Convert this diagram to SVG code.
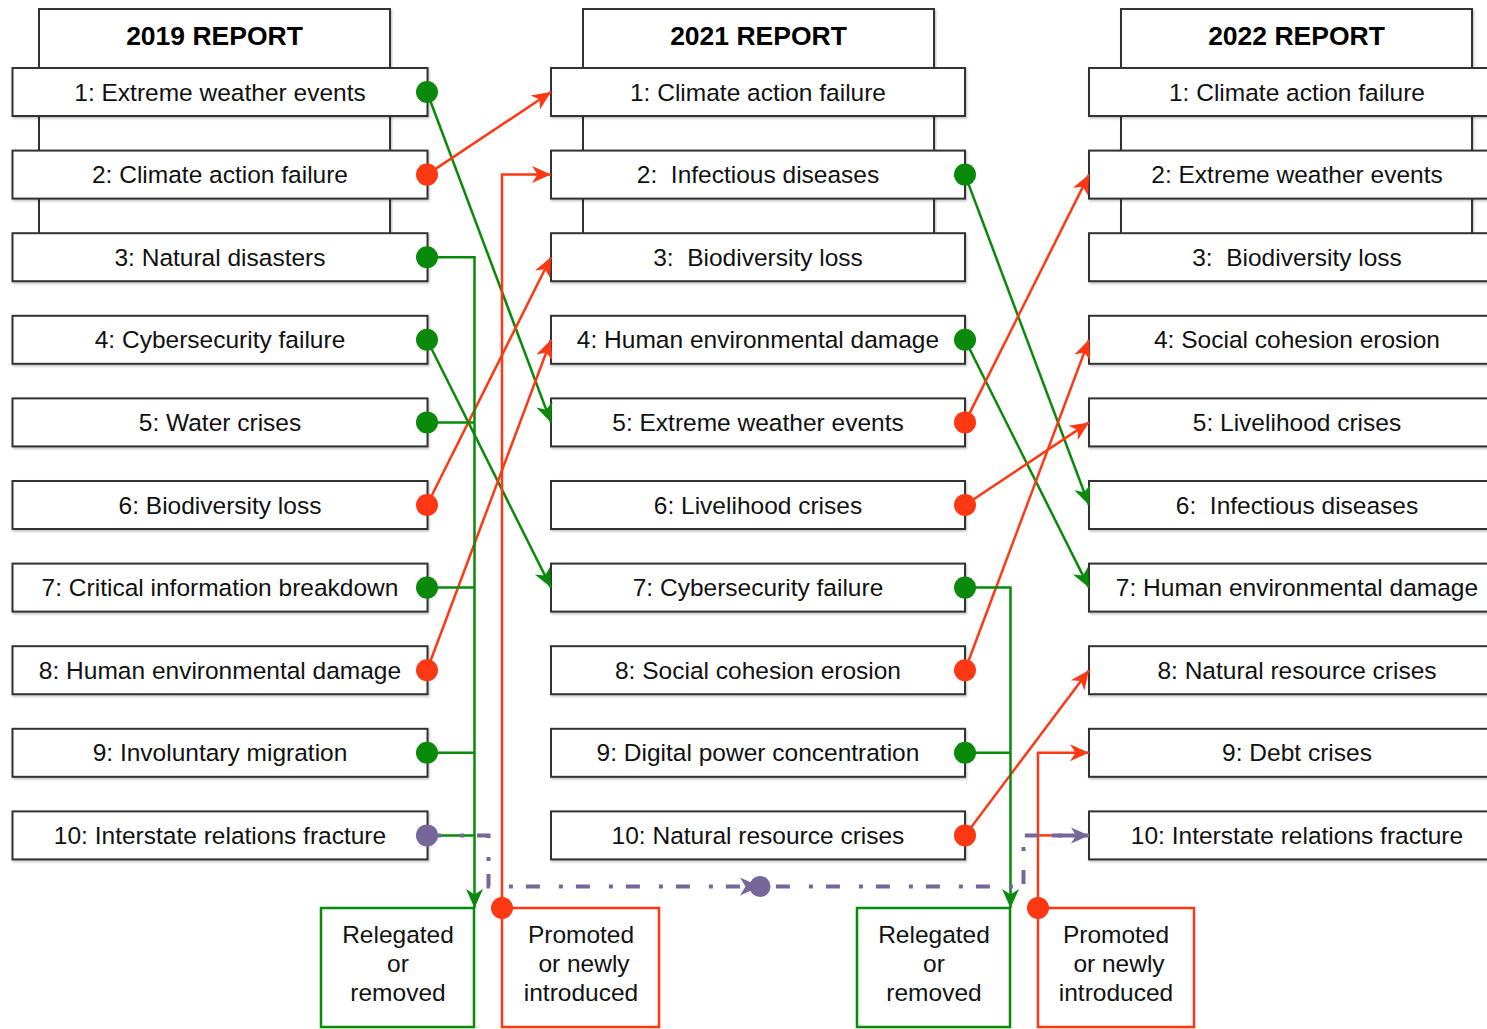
<svg xmlns="http://www.w3.org/2000/svg" width="1487" height="1029" viewBox="0 0 1487 1029">
<style>
.hdr{fill:#fff;stroke:#333;stroke-width:2}
.box{fill:#fff;stroke:#333;stroke-width:2}
.ht{font-family:"Liberation Sans",Arial,sans-serif;font-weight:bold;font-size:26.5px;fill:#000;text-anchor:middle}
.t{font-family:"Liberation Sans",Arial,sans-serif;font-size:24.5px;fill:#111;text-anchor:middle;white-space:pre}
.g{fill:none;stroke:#0a8a0a;stroke-width:2.5}
.r{fill:none;stroke:#ff3814;stroke-width:2.5}
.p{fill:none;stroke:#766699;stroke-width:4;stroke-dasharray:14 19 4 13}
.gd{fill:#0a8a0a}
.rd{fill:#ff3814}
.pd{fill:#766699}
.gb{fill:#fff;stroke:#0a8a0a;stroke-width:2.5}
.rb{fill:#fff;stroke:#ff3814;stroke-width:2.5}
</style>
<defs>
<filter id="sh" x="-5%" y="-20%" width="110%" height="150%">
<feDropShadow dx="1" dy="1.5" stdDeviation="1" flood-color="#000" flood-opacity="0.25"/>
</filter>
<marker id="ag" markerUnits="userSpaceOnUse" markerWidth="22" markerHeight="22" refX="20" refY="11" orient="auto" viewBox="0 0 22 22">
<path d="M20,11 L1,2.5 L6.5,11 L1,19.5 Z" fill="#0a8a0a"/>
</marker>
<marker id="ar" markerUnits="userSpaceOnUse" markerWidth="22" markerHeight="22" refX="20" refY="11" orient="auto" viewBox="0 0 22 22">
<path d="M20,11 L1,2.5 L6.5,11 L1,19.5 Z" fill="#ff3814"/>
</marker>
<marker id="ap" markerUnits="userSpaceOnUse" markerWidth="22" markerHeight="22" refX="20" refY="11" orient="auto" viewBox="0 0 22 22">
<path d="M20,11 L2,3 L7,11 L2,19 Z" fill="#766699"/>
</marker>
</defs>

<g id="col2019">
<rect class="hdr" x="39" y="9" width="351" height="240" filter="url(#sh)"/>
<text class="ht" x="214.5" y="44.5">2019 REPORT</text>
</g>
<g id="col2021">
<rect class="hdr" x="583" y="9" width="351" height="240" filter="url(#sh)"/>
<text class="ht" x="758.5" y="44.5">2021 REPORT</text>
</g>
<g id="col2022">
<rect class="hdr" x="1121" y="9" width="351" height="240" filter="url(#sh)"/>
<text class="ht" x="1296.5" y="44.5">2022 REPORT</text>
</g>

<g id="n2019-1"><rect class="box" x="12.5" y="68" width="415" height="48" filter="url(#sh)"/><text class="t" x="220" y="100.5">1: Extreme weather events</text></g>
<g id="n2019-2"><rect class="box" x="12.5" y="150.6" width="415" height="48" filter="url(#sh)"/><text class="t" x="220" y="183.1">2: Climate action failure</text></g>
<g id="n2019-3"><rect class="box" x="12.5" y="233.2" width="415" height="48" filter="url(#sh)"/><text class="t" x="220" y="265.7">3: Natural disasters</text></g>
<g id="n2019-4"><rect class="box" x="12.5" y="315.8" width="415" height="48" filter="url(#sh)"/><text class="t" x="220" y="348.3">4: Cybersecurity failure</text></g>
<g id="n2019-5"><rect class="box" x="12.5" y="398.4" width="415" height="48" filter="url(#sh)"/><text class="t" x="220" y="430.9">5: Water crises</text></g>
<g id="n2019-6"><rect class="box" x="12.5" y="481" width="415" height="48" filter="url(#sh)"/><text class="t" x="220" y="513.5">6: Biodiversity loss</text></g>
<g id="n2019-7"><rect class="box" x="12.5" y="563.6" width="415" height="48" filter="url(#sh)"/><text class="t" x="220" y="596.1">7: Critical information breakdown</text></g>
<g id="n2019-8"><rect class="box" x="12.5" y="646.2" width="415" height="48" filter="url(#sh)"/><text class="t" x="220" y="678.7">8: Human environmental damage</text></g>
<g id="n2019-9"><rect class="box" x="12.5" y="728.8" width="415" height="48" filter="url(#sh)"/><text class="t" x="220" y="761.3">9: Involuntary migration</text></g>
<g id="n2019-10"><rect class="box" x="12.5" y="811.4" width="415" height="48" filter="url(#sh)"/><text class="t" x="220" y="843.9">10: Interstate relations fracture</text></g>

<g id="n2021-1"><rect class="box" x="551" y="68" width="414" height="48" filter="url(#sh)"/><text class="t" x="758" y="100.5">1: Climate action failure</text></g>
<g id="n2021-2"><rect class="box" x="551" y="150.6" width="414" height="48" filter="url(#sh)"/><text class="t" x="758" y="183.1">2:  Infectious diseases</text></g>
<g id="n2021-3"><rect class="box" x="551" y="233.2" width="414" height="48" filter="url(#sh)"/><text class="t" x="758" y="265.7">3:  Biodiversity loss</text></g>
<g id="n2021-4"><rect class="box" x="551" y="315.8" width="414" height="48" filter="url(#sh)"/><text class="t" x="758" y="348.3">4: Human environmental damage</text></g>
<g id="n2021-5"><rect class="box" x="551" y="398.4" width="414" height="48" filter="url(#sh)"/><text class="t" x="758" y="430.9">5: Extreme weather events</text></g>
<g id="n2021-6"><rect class="box" x="551" y="481" width="414" height="48" filter="url(#sh)"/><text class="t" x="758" y="513.5">6: Livelihood crises</text></g>
<g id="n2021-7"><rect class="box" x="551" y="563.6" width="414" height="48" filter="url(#sh)"/><text class="t" x="758" y="596.1">7: Cybersecurity failure</text></g>
<g id="n2021-8"><rect class="box" x="551" y="646.2" width="414" height="48" filter="url(#sh)"/><text class="t" x="758" y="678.7">8: Social cohesion erosion</text></g>
<g id="n2021-9"><rect class="box" x="551" y="728.8" width="414" height="48" filter="url(#sh)"/><text class="t" x="758" y="761.3">9: Digital power concentration</text></g>
<g id="n2021-10"><rect class="box" x="551" y="811.4" width="414" height="48" filter="url(#sh)"/><text class="t" x="758" y="843.9">10: Natural resource crises</text></g>

<g id="n2022-1"><rect class="box" x="1089" y="68" width="420" height="48" filter="url(#sh)"/><text class="t" x="1297" y="100.5">1: Climate action failure</text></g>
<g id="n2022-2"><rect class="box" x="1089" y="150.6" width="420" height="48" filter="url(#sh)"/><text class="t" x="1297" y="183.1">2: Extreme weather events</text></g>
<g id="n2022-3"><rect class="box" x="1089" y="233.2" width="420" height="48" filter="url(#sh)"/><text class="t" x="1297" y="265.7">3:  Biodiversity loss</text></g>
<g id="n2022-4"><rect class="box" x="1089" y="315.8" width="420" height="48" filter="url(#sh)"/><text class="t" x="1297" y="348.3">4: Social cohesion erosion</text></g>
<g id="n2022-5"><rect class="box" x="1089" y="398.4" width="420" height="48" filter="url(#sh)"/><text class="t" x="1297" y="430.9">5: Livelihood crises</text></g>
<g id="n2022-6"><rect class="box" x="1089" y="481" width="420" height="48" filter="url(#sh)"/><text class="t" x="1297" y="513.5">6:  Infectious diseases</text></g>
<g id="n2022-7"><rect class="box" x="1089" y="563.6" width="420" height="48" filter="url(#sh)"/><text class="t" x="1297" y="596.1">7: Human environmental damage</text></g>
<g id="n2022-8"><rect class="box" x="1089" y="646.2" width="420" height="48" filter="url(#sh)"/><text class="t" x="1297" y="678.7">8: Natural resource crises</text></g>
<g id="n2022-9"><rect class="box" x="1089" y="728.8" width="420" height="48" filter="url(#sh)"/><text class="t" x="1297" y="761.3">9: Debt crises</text></g>
<g id="n2022-10"><rect class="box" x="1089" y="811.4" width="420" height="48" filter="url(#sh)"/><text class="t" x="1297" y="843.9">10: Interstate relations fracture</text></g>

<g id="relegated1"><rect class="gb" x="321" y="908" width="153" height="119"/>
<text class="t" x="398" y="943">Relegated</text><text class="t" x="398" y="972">or</text><text class="t" x="398" y="1001">removed</text></g>
<g id="promoted1"><rect class="rb" x="502" y="908" width="157" height="119"/>
<text class="t" x="581" y="943">Promoted</text><text class="t" x="584" y="972">or newly</text><text class="t" x="581" y="1001">introduced</text></g>
<g id="relegated2"><rect class="gb" x="857" y="908" width="153" height="119"/>
<text class="t" x="934" y="943">Relegated</text><text class="t" x="934" y="972">or</text><text class="t" x="934" y="1001">removed</text></g>
<g id="promoted2"><rect class="rb" x="1038" y="908" width="156" height="119"/>
<text class="t" x="1116" y="943">Promoted</text><text class="t" x="1119" y="972">or newly</text><text class="t" x="1116" y="1001">introduced</text></g>

<g id="connectors">
<path class="g" d="M427,92 L551,422.4" marker-end="url(#ag)"/>
<path class="r" d="M427,174.6 L551,92" marker-end="url(#ar)"/>
<path class="g" d="M427,339.8 L551,587.6" marker-end="url(#ag)"/>
<path class="r" d="M427,505 L551,257.2" marker-end="url(#ar)"/>
<path class="r" d="M427,670.2 L551,339.8" marker-end="url(#ar)"/>
<path class="g" d="M427,257.2 H474.5 V908" marker-end="url(#ag)"/>
<path class="g" d="M427,422.4 H474.5 M427,587.6 H474.5 M427,752.8 H474.5 M427,835.4 H474.5"/>
<path class="r" d="M502,908 V174.6 H551" marker-end="url(#ar)"/>
<path class="g" d="M965,174.6 L1089,505" marker-end="url(#ag)"/>
<path class="g" d="M965,339.8 L1089,587.6" marker-end="url(#ag)"/>
<path class="r" d="M965,422.4 L1089,174.6" marker-end="url(#ar)"/>
<path class="r" d="M965,505 L1089,422.4" marker-end="url(#ar)"/>
<path class="r" d="M965,670.2 L1089,339.8" marker-end="url(#ar)"/>
<path class="r" d="M965,835.4 L1089,670.2" marker-end="url(#ar)"/>
<path class="g" d="M965,587.6 H1010.5 V908" marker-end="url(#ag)"/>
<path class="g" d="M965,752.8 H1010.5"/>
<path class="r" d="M1038,908 V752.8 H1089" marker-end="url(#ar)"/>
<path class="r" d="M1038,835.4 H1060"/>
<path class="p" d="M427,835.4 H488.5 V886.5 H1023.5 V835.4 H1070"/>
<path d="M1052,835.4 H1089" fill="none" stroke="#766699" stroke-width="4" marker-end="url(#ap)"/>
<path d="M760,886.5 L740,877.5 L745.5,886.5 L740,895.5 Z" fill="#766699"/>
<circle class="pd" cx="760" cy="886.5" r="10.5"/>
<circle class="gd" cx="427" cy="92" r="11"/>
<circle class="rd" cx="427" cy="174.6" r="11"/>
<circle class="gd" cx="427" cy="257.2" r="11"/>
<circle class="gd" cx="427" cy="339.8" r="11"/>
<circle class="gd" cx="427" cy="422.4" r="11"/>
<circle class="rd" cx="427" cy="505" r="11"/>
<circle class="gd" cx="427" cy="587.6" r="11"/>
<circle class="rd" cx="427" cy="670.2" r="11"/>
<circle class="gd" cx="427" cy="752.8" r="11"/>
<circle class="pd" cx="427" cy="835.4" r="11"/>
<circle class="gd" cx="965" cy="174.6" r="11"/>
<circle class="gd" cx="965" cy="339.8" r="11"/>
<circle class="rd" cx="965" cy="422.4" r="11"/>
<circle class="rd" cx="965" cy="505" r="11"/>
<circle class="gd" cx="965" cy="587.6" r="11"/>
<circle class="rd" cx="965" cy="670.2" r="11"/>
<circle class="gd" cx="965" cy="752.8" r="11"/>
<circle class="rd" cx="965" cy="835.4" r="11"/>
<circle class="rd" cx="502" cy="908" r="11"/>
<circle class="rd" cx="1038" cy="908" r="11"/>
</g>
</svg>
